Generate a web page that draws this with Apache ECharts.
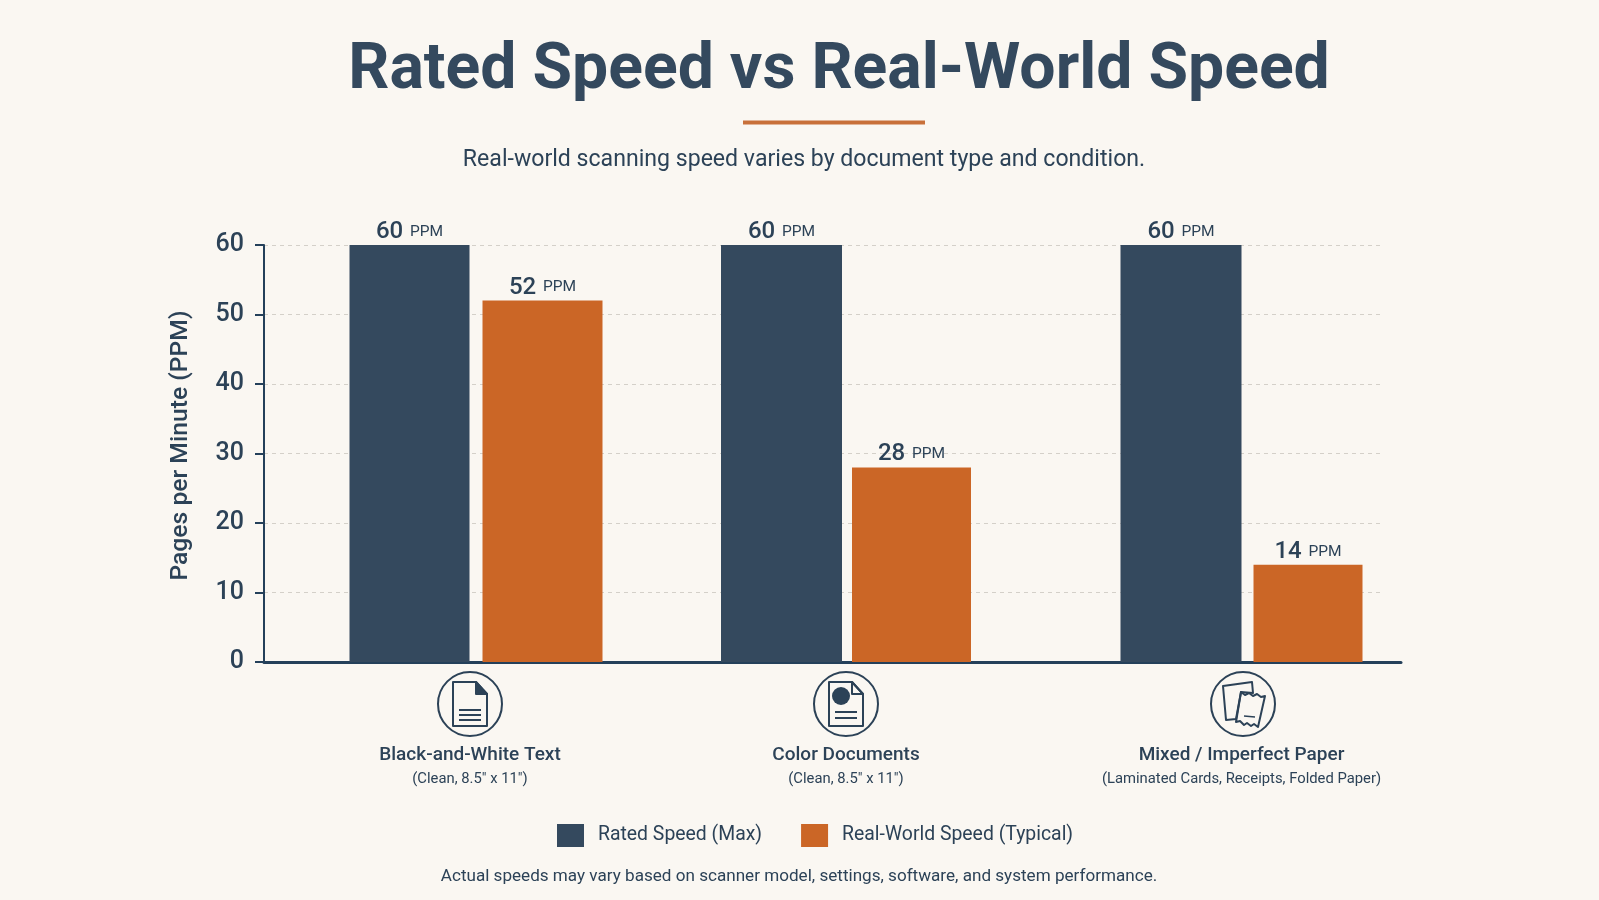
<!DOCTYPE html>
<html>
<head>
<meta charset="utf-8">
<title>Rated Speed vs Real-World Speed</title>
<style>
  html, body { margin: 0; padding: 0; background: #faf7f2; }
  #chart { width: 1599px; height: 900px; }
</style>
<script src="https://cdn.jsdelivr.net/npm/echarts@6/dist/echarts.min.js"></script>
</head>
<body>
<div id="chart"></div>
<script>
// Scanner throughput, pages per minute
const categories = ['Black-and-White Text', 'Color Documents', 'Mixed / Imperfect Paper'];
const categoryNotes = ['(Clean, 8.5" x 11")', '(Clean, 8.5" x 11")', '(Laminated Cards, Receipts, Folded Paper)'];
const ratedSpeed = [60, 60, 60];
const realWorldSpeed = [52, 28, 14];
const yTicks = [0, 10, 20, 30, 40, 50, 60];
const seriesNames = ['Rated Speed (Max)', 'Real-World Speed (Typical)'];

const INK = '#2c4257';
const AXIS = '#24405a';
const NAVY = '#34495e';
const RUST = '#cb6626';
const FONT = 'Roboto';

// Each document type sits in its own band, so the groups can be spaced unevenly
const bands = [
  { left: 264, width: 424, rated: 120, real: 120, gap: 13, labelShift: 12 },
  { left: 688, width: 316, rated: 121, real: 119, gap: 10, labelShift: 0 },
  { left: 1082, width: 319, rated: 121, real: 109, gap: 12, labelShift: 0 }
];
const PLOT_TOP = 245, PLOT_HEIGHT = 417, PLOT_RIGHT = 1380;

const grids = [{ left: 264, top: PLOT_TOP, width: PLOT_RIGHT - 264, height: PLOT_HEIGHT }];
const xAxes = [{
  gridIndex: 0, type: 'category', data: [''],
  axisLine: { lineStyle: { color: AXIS, width: 3 } },
  axisTick: { show: false }, axisLabel: { show: false }
}];
const yAxes = [{
  gridIndex: 0, type: 'value', min: yTicks[0], max: yTicks[yTicks.length - 1], interval: 10,
  name: 'Pages per Minute (PPM)', nameLocation: 'middle', nameGap: 71,
  nameTextStyle: { color: INK, fontFamily: FONT, fontSize: 24.7, fontWeight: 500, padding: [0, 0, 0, 16] },
  axisLine: { show: true, lineStyle: { color: AXIS, width: 2 } },
  axisTick: { show: true, length: 9, lineStyle: { color: AXIS, width: 2 } },
  axisLabel: { color: INK, fontFamily: FONT, fontSize: 25, fontWeight: 500, margin: 20 },
  splitLine: { show: true, lineStyle: { color: '#d4d0c9', type: [4, 4], width: 1 } }
}];
const series = [];

function valueLabel() {
  return {
    show: true, position: 'top', distance: 1,
    formatter: p => '{n|' + p.value + '}  {u|PPM}',
    rich: {
      n: { color: INK, fontFamily: FONT, fontSize: 24, fontWeight: 500 },
      u: { color: INK, fontFamily: FONT, fontSize: 15.5 }
    }
  };
}

bands.forEach((band, i) => {
  const idx = i + 1;
  grids.push({ left: band.left, top: PLOT_TOP, width: band.width, height: PLOT_HEIGHT });
  xAxes.push({
    gridIndex: idx, type: 'category', data: [categories[i]],
    axisLine: { show: i === 2, lineStyle: { color: AXIS, width: 3 } },
    axisTick: { show: false },
    axisLabel: {
      margin: 81, interval: 0, padding: [0, band.labelShift, 0, 0],
      formatter: v => '{name|' + v + '}\n{note|' + categoryNotes[i] + '}',
      rich: {
        name: { color: INK, fontFamily: FONT, fontSize: 19, fontWeight: 500, lineHeight: 24 },
        note: { color: INK, fontFamily: FONT, fontSize: 14.8, lineHeight: 24 }
      }
    }
  });
  yAxes.push({ gridIndex: idx, type: 'value', min: 0, max: 60, show: false });
  series.push({
    type: 'bar', name: seriesNames[0], xAxisIndex: idx, yAxisIndex: idx,
    data: [ratedSpeed[i]], barWidth: band.rated, barGap: (band.gap / band.rated * 100) + '%',
    itemStyle: { color: NAVY }, label: valueLabel()
  });
  series.push({
    type: 'bar', name: seriesNames[1], xAxisIndex: idx, yAxisIndex: idx,
    data: [realWorldSpeed[i]], barWidth: band.real, barGap: (band.gap / band.rated * 100) + '%',
    itemStyle: { color: RUST }, label: valueLabel()
  });
});

// Document pictograms under the axis
function line(x1, y1, x2, y2, w) {
  return { type: 'line', shape: { x1, y1, x2, y2 }, style: { stroke: INK, lineWidth: w || 2 } };
}
function sheet(points, fill) {
  return { type: 'polygon', shape: { points }, style: { fill: fill || 'none', stroke: INK, lineWidth: 2, lineJoin: 'round' } };
}
function badge(x, y, parts) {
  return {
    type: 'group', x, y,
    children: [{ type: 'circle', shape: { cx: 0, cy: 0, r: 32 }, style: { fill: 'none', stroke: INK, lineWidth: 2 } }].concat(parts)
  };
}
const pageOutline = [[-17, -22], [6, -22], [17, -10], [17, 22], [-17, 22]];
const fold = [[6, -22], [17, -10], [6, -10]];
const icons = [
  badge(470, 704, [
    sheet(pageOutline), sheet(fold, INK),
    line(-11, 6, 11, 6), line(-11, 11, 11, 11), line(-11, 16, 11, 16)
  ]),
  badge(846, 704, [
    sheet(pageOutline), sheet(fold),
    { type: 'circle', shape: { cx: -5, cy: -8, r: 9 }, style: { fill: INK } },
    line(-11, 8, 11, 8), line(-11, 14, 11, 14)
  ]),
  badge(1243, 704, [
    sheet([[-20, -18], [9, -22], [10, -11], [-2, -12], [-7, 15], [-17, 16]]),
    sheet([[-2, -12], [2, -9], [6, -11], [10, -8], [14, -10], [18, -7], [22, -8],
           [15, 23], [11, 20], [8, 22], [4, 19], [1, 21], [-3, 17], [-7, 18]]),
    line(1, 12, 12, 13, 1.5)
  ])
];

const chart = echarts.init(document.getElementById('chart'), null, { renderer: 'canvas' });
chart.setOption({
  animation: false,
  backgroundColor: '#faf7f2',
  title: [
    { text: 'Rated Speed vs Real-World Speed', left: 834, top: 35, textAlign: 'center',
      textStyle: { color: NAVY, fontFamily: FONT, fontSize: 64.3, fontWeight: 700 } },
    { text: 'Real-world scanning speed varies by document type and condition.', left: 799, top: 144, textAlign: 'center',
      textStyle: { color: INK, fontFamily: FONT, fontSize: 23.1, fontWeight: 400 } },
    { text: 'Actual speeds may vary based on scanner model, settings, software, and system performance.', left: 794, top: 863, textAlign: 'center',
      textStyle: { color: INK, fontFamily: FONT, fontSize: 17.1, fontWeight: 400 } }
  ],
  legend: {
    data: seriesNames, left: 552, top: 819, itemWidth: 27, itemHeight: 23, itemGap: 39,
    icon: 'rect',
    textStyle: { color: INK, fontFamily: FONT, fontSize: 19.4, padding: [0, 0, 0, 9] }
  },
  grid: grids,
  xAxis: xAxes,
  yAxis: yAxes,
  series,
  graphic: [
    { type: 'rect', shape: { x: 743, y: 120.5, width: 182, height: 4 }, style: { fill: '#c8703a' } }
  ].concat(icons)
});
</script>
</body>
</html>
